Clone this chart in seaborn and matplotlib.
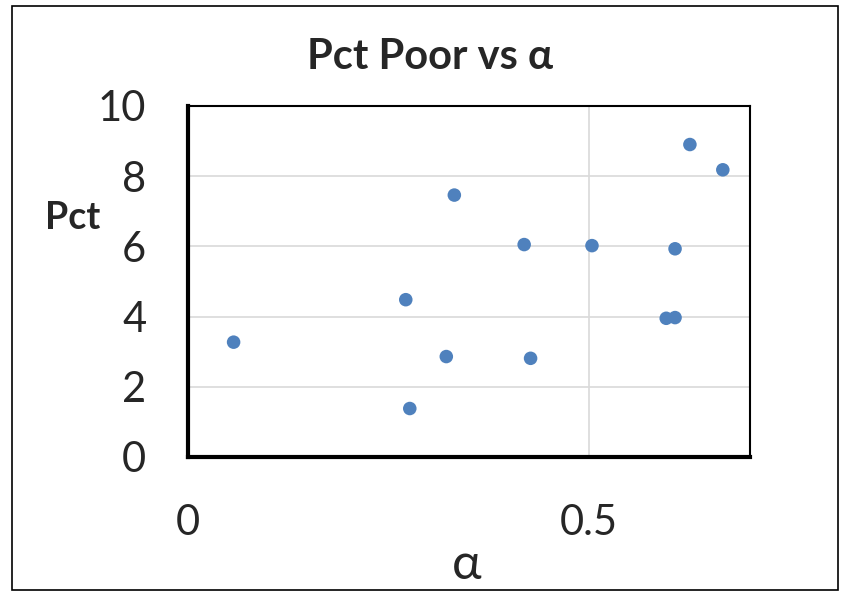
import numpy as np
import pandas as pd
import seaborn as sns
import matplotlib.pyplot as plt
from matplotlib.patches import Rectangle

# values
alpha_vals = [0.057, 0.2715, 0.2765, 0.322, 0.332, 0.419, 0.427, 0.5035, 0.596, 0.607, 0.607, 0.6255, 0.6665]
pct_poor = [3.27, 4.48, 1.38, 2.86, 7.46, 6.05, 2.81, 6.02, 3.95, 3.97, 5.93, 8.90, 8.18]
x_ticks = [0, 0.5]
y_ticks = [0, 2, 4, 6, 8, 10]

df = pd.DataFrame({"alpha": alpha_vals, "pct": pct_poor})

sns.set_style("white")
plt.rcParams['font.family'] = ['Lato', 'DejaVu Sans']

fig = plt.figure(figsize=(8.5, 5.95), dpi=100)
ax = fig.add_axes([0.221, 0.232, 0.661, 0.590])

sns.scatterplot(data=df, x="alpha", y="pct", color="#4f81bd", s=95,
                edgecolor="none", ax=ax, zorder=3)

ax.set_xlim(0, 0.7)
ax.set_ylim(0, 10)
ax.set_xticks(x_ticks)
ax.set_xticklabels(["0", "0.5"])
ax.set_yticks(y_ticks)
ax.tick_params(axis="both", length=0, labelsize=30)
ax.tick_params(axis="x", pad=34)
ax.tick_params(axis="y", pad=30)
ax.grid(True, color="#d9d9d9", linewidth=1.2)
ax.set_axisbelow(True)

for side in ["top", "right"]:
    ax.spines[side].set_color("black")
    ax.spines[side].set_linewidth(1.5)
for side in ["left", "bottom"]:
    ax.spines[side].set_color("black")
    ax.spines[side].set_linewidth(3)

ax.set_xlabel("")
ax.set_ylabel("")
fig.text(0.506, 0.905, "Pct Poor vs α", ha="center", va="center",
         fontsize=30, fontweight="bold")
fig.text(0.085, 0.634, "Pct", ha="center", va="center", fontsize=27, fontweight="bold")
fig.text(0.549, 0.05, "α", ha="center", va="center", fontsize=36)

fig.patches.append(Rectangle((0.014, 0.008), 0.972, 0.982, transform=fig.transFigure,
                             fill=False, edgecolor="black", linewidth=1.2))

fig.savefig("out.png", dpi=100)
